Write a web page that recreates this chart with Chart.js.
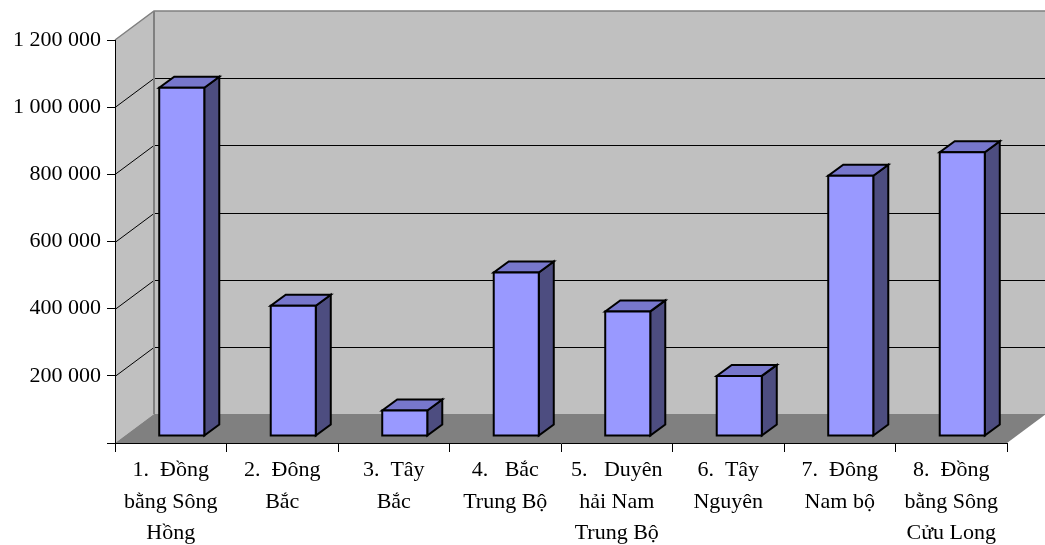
<!DOCTYPE html>
<html>
<head>
<meta charset="utf-8">
<script src="https://cdn.jsdelivr.net/npm/chart.js@4.4.1/dist/chart.umd.min.js"></script>
<style>
  html, body { margin: 0; padding: 0; background: #ffffff; }
  #wrap { width: 1045px; height: 545px; }
</style>
</head>
<body>
<div id="wrap"><canvas id="c" width="1045" height="545"></canvas></div>
<script>
// ---- Data ----
const categories = [
  ["1.  Đồng", "bằng Sông", "Hồng"],
  ["2.  Đông", "Bắc"],
  ["3.  Tây", "Bắc"],
  ["4.   Bắc", "Trung Bộ"],
  ["5.   Duyên", "hải Nam", "Trung Bộ"],
  ["6.  Tây", "Nguyên"],
  ["7.  Đông", "Nam bộ"],
  ["8.  Đồng", "bằng Sông", "Cửu Long"]
];
const values = [1037000, 388000, 76000, 487000, 371000, 179000, 775000, 845000];
const yMin = 0;
const yMax = 1200000;
const yStep = 200000;

// ---- 3D look ----
const WALL_DX = 39, WALL_DY = -29;     // depth of the walls / floor
const BAR_OX = 11, BAR_OY = -7;        // front face of bars inside the floor depth
const BAR_DX = 15, BAR_DY = -11;       // depth of each bar

function fmt(v) {
  return String(v).replace(/\B(?=(\d{3})+(?!\d))/g, ' ');
}

function poly(ctx, pts, fill, stroke, lw) {
  ctx.beginPath();
  ctx.moveTo(pts[0][0], pts[0][1]);
  for (let i = 1; i < pts.length; i++) ctx.lineTo(pts[i][0], pts[i][1]);
  ctx.closePath();
  if (fill) { ctx.fillStyle = fill; ctx.fill(); }
  if (stroke) { ctx.strokeStyle = stroke; ctx.lineWidth = lw || 1; ctx.stroke(); }
}

const walls3d = {
  id: 'walls3d',
  beforeDraw(chart) {
    const { ctx, chartArea: a, scales: { y } } = chart;
    const y0 = y.getPixelForValue(yMin);
    const yT = y.getPixelForValue(yMax);
    ctx.save();
    ctx.fillStyle = '#ffffff';
    ctx.fillRect(0, 0, chart.width, chart.height);
    const bx = a.left + WALL_DX;
    const rx = a.right + WALL_DX;
    // side wall
    poly(ctx, [[a.left, yT], [bx, yT + WALL_DY], [bx, y0 + WALL_DY], [a.left, y0]], '#C0C0C0');
    // back wall
    poly(ctx, [[bx, yT + WALL_DY], [rx, yT + WALL_DY], [rx, y0 + WALL_DY], [bx, y0 + WALL_DY]], '#C0C0C0');
    // floor
    poly(ctx, [[a.left, y0], [a.right, y0], [rx, y0 + WALL_DY], [bx, y0 + WALL_DY]], '#808080');
    // gridlines
    ctx.strokeStyle = '#000000';
    ctx.lineWidth = 1;
    y.ticks.forEach(t => {
      if (t.value <= yMin || t.value >= yMax) return;
      const py = Math.round(y.getPixelForValue(t.value)) + 0.5;
      ctx.beginPath();
      ctx.moveTo(a.left, py);
      ctx.lineTo(bx, py + WALL_DY);
      ctx.lineTo(rx, py + WALL_DY);
      ctx.stroke();
    });
    // wall edges
    ctx.strokeStyle = '#808080';
    ctx.lineWidth = 1.5;
    ctx.beginPath();
    ctx.moveTo(a.left, yT);
    ctx.lineTo(bx, yT + WALL_DY);
    ctx.lineTo(rx, yT + WALL_DY);
    ctx.stroke();
    ctx.lineWidth = 2;
    ctx.beginPath();
    ctx.moveTo(bx, yT + WALL_DY);
    ctx.lineTo(bx, y0 + WALL_DY);
    ctx.stroke();
    ctx.restore();
  }
};

const bars3d = {
  id: 'bars3d',
  afterDatasetsDraw(chart) {
    const { ctx } = chart;
    const meta = chart.getDatasetMeta(0);
    ctx.save();
    ctx.lineJoin = 'miter';
    meta.data.forEach(el => {
      const p = el.getProps(['x', 'y', 'base', 'width'], true);
      const cx = p.x + BAR_OX;
      const L = cx - p.width / 2, R = cx + p.width / 2;
      const T = p.y + BAR_OY, B = p.base + BAR_OY;
      // side
      poly(ctx, [[R, T], [R + BAR_DX, T + BAR_DY], [R + BAR_DX, B + BAR_DY], [R, B]], '#4D4D80', '#000000', 2);
      // top
      poly(ctx, [[L, T], [R, T], [R + BAR_DX, T + BAR_DY], [L + BAR_DX, T + BAR_DY]], '#7777CC', '#000000', 2);
      // front
      poly(ctx, [[L, T], [R, T], [R, B], [L, B]], '#9999FF', '#000000', 2);
    });
    ctx.restore();
  }
};

const tickFont = { family: "'Liberation Serif', 'Times New Roman', serif", size: 22 };

new Chart(document.getElementById('c'), {
  type: 'bar',
  data: {
    labels: categories,
    datasets: [{
      data: values,
      backgroundColor: 'rgba(0,0,0,0)',
      borderWidth: 0,
      categoryPercentage: 1,
      barPercentage: 0.404
    }]
  },
  options: {
    responsive: false,
    animation: false,
    events: [],
    layout: { padding: { top: 40, right: 38, left: 0, bottom: 0 } },
    plugins: { legend: { display: false }, tooltip: { enabled: false }, title: { display: false } },
    scales: {
      x: {
        type: 'category',
        offset: true,
        grid: { offset: true, drawOnChartArea: false, drawTicks: true, tickLength: 9, color: '#000000', lineWidth: 1 },
        border: { display: true, color: '#000000', width: 1 },
        ticks: { font: { ...tickFont, lineHeight: 1.42 }, color: '#000000', maxRotation: 0, minRotation: 0, autoSkip: false, padding: 3 },
        afterFit(s) { s.height = 102; }
      },
      y: {
        min: yMin,
        max: yMax,
        grid: { drawOnChartArea: false, drawTicks: true, tickLength: 8, color: '#000000', lineWidth: 1 },
        border: { display: true, color: '#000000', width: 1 },
        ticks: {
          stepSize: yStep,
          font: tickFont,
          color: '#000000',
          padding: 6,
          callback: v => (v === 0 ? '' : fmt(v))
        },
        afterFit(s) { s.width = 115; }
      }
    }
  },
  plugins: [walls3d, bars3d]
});
</script>
</body>
</html>
